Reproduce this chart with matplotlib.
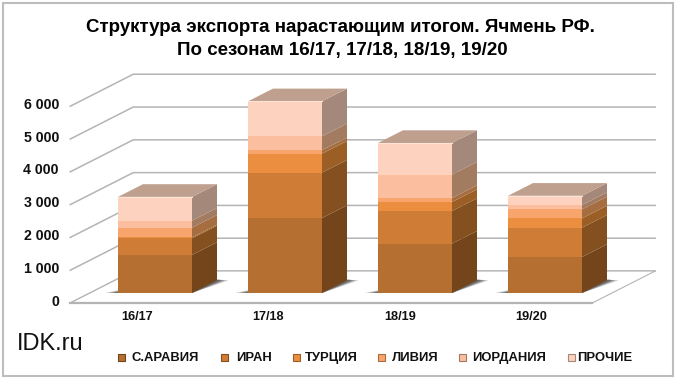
import matplotlib
matplotlib.use('Agg')
import matplotlib.pyplot as plt
from matplotlib.patches import Polygon, Rectangle

plt.rcParams['font.family'] = ['Liberation Sans', 'DejaVu Sans']

seasons = ['16/17', '17/18', '18/19', '19/20']
series_names = ['С.АРАВИЯ', 'ИРАН', 'ТУРЦИЯ', 'ЛИВИЯ', 'ИОРДАНИЯ', 'ПРОЧИЕ']

saudi = [1160, 2287, 1504, 1098]
iran = [505, 1382, 996, 892]
turkey = [30, 579, 274, 285]
libya = [295, 102, 122, 274]
jordan = [215, 426, 712, 132]
other = [725, 1068, 965, 283]
series = [saudi, iran, turkey, libya, jordan, other]

front_colors = ['#b56f30', '#cf7d36', '#ec8e3f', '#f7a56c', '#fbbf9f', '#fdd2be']
side_colors = ['#74451b', '#85501f', '#9b5f26', '#a66e40', '#a37b60', '#a4897b']
top_color = '#bfa08e'
grid_color = '#b4b4b4'

yticks = [0, 1000, 2000, 3000, 4000, 5000, 6000]
ytick_labels = ['0', '1 000', '2 000', '3 000', '4 000', '5 000', '6 000']

W, H = 680, 384
PX_X = 130.0      # px per category
PX_Y = 0.0328     # px per unit of export
ZERO_X, ZERO_Y = 155, 293

# 3d look: one unit of depth moves a point right and up
DEPTH_X = 25 / PX_X
DEPTH_Y = 12.7 / PX_Y
BAR_W = 74 / PX_X
FLOOR_FRONT, FLOOR_BACK = -0.79, 1.73
FLOOR_L, FLOOR_R = -0.5, 3.515


def pt(x, v, d=0.0):
    return (x + d * DEPTH_X, v + d * DEPTH_Y)


def px(x, y):
    # pixel position of labels in data coordinates
    return ((x - ZERO_X) / PX_X, (ZERO_Y - y) / PX_Y)


fig = plt.figure(figsize=(W / 100, H / 100), dpi=100)
ax = fig.add_axes([0, 0, 1, 1])
ax.set_xlim(-ZERO_X / PX_X, (W - ZERO_X) / PX_X)
ax.set_ylim((ZERO_Y - H) / PX_Y, ZERO_Y / PX_Y)
ax.axis('off')

# рамка
fig.patches.append(Rectangle((2.5 / W, 1 - 375.5 / H), 670 / W, 373 / H, transform=fig.transFigure,
                             fill=False, ec='#bdbdbd', lw=1.5))

# сетка: стенка слева и задняя стенка
for v in yticks:
    ax.plot(*zip(pt(FLOOR_L, v, FLOOR_FRONT), pt(FLOOR_L, v, FLOOR_BACK), pt(FLOOR_R, v, FLOOR_BACK)),
            color=grid_color, lw=1.1, zorder=1, solid_joinstyle='miter')
# пол
ax.add_patch(Polygon([pt(FLOOR_L, 0, FLOOR_FRONT), pt(FLOOR_R, 0, FLOOR_FRONT),
                      pt(FLOOR_R, 0, FLOOR_BACK), pt(FLOOR_L, 0, FLOOR_BACK)],
                     closed=True, fc='white', ec=grid_color, lw=0.8, zorder=2))
ax.plot(*zip(pt(FLOOR_L, 0, FLOOR_FRONT), pt(FLOOR_R, 0, FLOOR_FRONT)), color=grid_color, lw=1.6, zorder=2)

# столбики
for i in range(len(seasons)):
    left, right = i - BAR_W / 2, i + BAR_W / 2
    # тень на полу
    for grow, alpha in [(1.0, 0.25), (0.7, 0.35), (0.4, 0.45)]:
        ax.add_patch(Polygon([pt(left - 0.1 * grow, 0, 0), pt(right, 0, 0),
                              pt(right + 0.05 * grow, 0, 0.55), pt(right + 0.09 * grow, 0, 1.0),
                              pt(right, 0, 1.05), pt(left, 0, 0.4 * grow)],
                             closed=True, fc='#333333', ec='none', alpha=alpha, zorder=3))
    bottom = 0
    for s, values in enumerate(series):
        top = bottom + values[i]
        ax.add_patch(Rectangle((left, bottom), BAR_W, values[i], fc=front_colors[s], ec='none', zorder=5))
        ax.add_patch(Polygon([pt(right, bottom), pt(right, bottom, 1), pt(right, top, 1), pt(right, top)],
                             closed=True, fc=side_colors[s], ec='none', zorder=4))
        bottom = top
    ax.add_patch(Polygon([pt(left, bottom), pt(right, bottom), pt(right, bottom, 1), pt(left, bottom, 1)],
                         closed=True, fc=top_color, ec='none', zorder=4))
    ax.plot(*zip(pt(left, bottom), pt(right, bottom)), color='#fde3d6', lw=0.8, zorder=6)

# подписи
for v, label in zip(yticks, ytick_labels):
    x, y = px(59, 301.7 - v * PX_Y)
    ax.text(x, y, label, ha='right', va='center', fontsize=10.2, fontweight='bold', color='#111111')
for i, label in enumerate(seasons):
    x, y = px(137 + i * 131.5, 317)
    ax.text(x, y, label, ha='center', va='center', fontsize=9.2, fontweight='bold', color='#111111')

x, y = px(340, 28)
ax.text(x, y, 'Структура экспорта нарастающим итогом. Ячмень РФ.', ha='center', va='center',
        fontsize=13.5, fontweight='bold', color='black')
x, y = px(342, 51)
ax.text(x, y, 'По сезонам 16/17, 17/18, 18/19, 19/20', ha='center', va='center',
        fontsize=13.5, fontweight='bold', color='black')
x, y = px(17, 344)
ax.text(x, y, 'IDK.ru', ha='left', va='center', fontsize=17, color='#111111')

# легенда
marker_x = [121.5, 225, 296, 381, 462, 571]
text_x = [132, 236, 305, 392, 472, 577]
for s, name in enumerate(series_names):
    x, y = px(text_x[s], 358)
    ax.text(x, y, name, ha='left', va='center', fontsize=9.4, fontweight='bold', color='#111111')
    x0, y0 = px(marker_x[s] - 3.5, 361)
    ax.add_patch(Rectangle((x0, y0), 7 / PX_X, 7 / PX_Y, fc=front_colors[s], ec=side_colors[s], lw=0.8))

fig.savefig('out.png', dpi=100, facecolor='white')
